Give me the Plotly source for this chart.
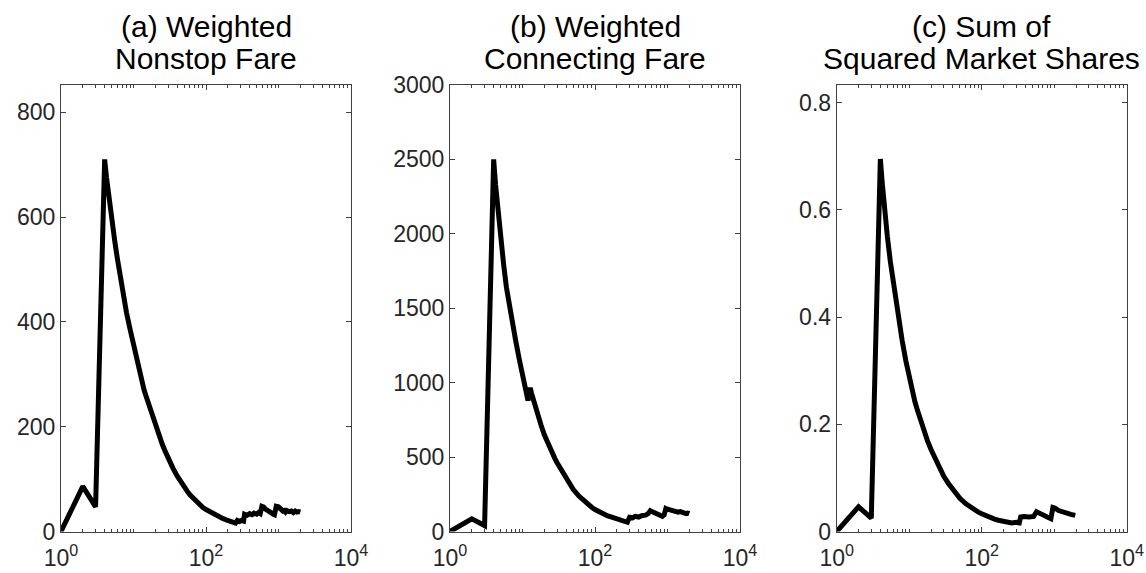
import plotly.graph_objects as go

# ---------------- data ----------------
title_line1 = ["(a) Weighted", "(b) Weighted", "(c) Sum of"]
title_line2 = ["Nonstop Fare", "Connecting Fare", "Squared Market Shares"]

nonstop_x = [1, 2, 3, 4, 4.25, 4.5, 4.75, 5, 5.5, 6, 6.5, 7, 7.5, 8, 9, 10, 11, 12, 13, 14, 15, 16, 18, 20,
             22, 25, 28, 30, 35, 40, 45, 50, 55, 60, 70, 80, 90, 100, 115, 130, 150, 170, 190, 210, 240, 255,
             270, 290, 310, 330, 340, 370, 400, 430, 460, 500, 530, 560, 590, 620, 660, 700, 750, 800, 850,
             880, 930, 1000, 1050, 1100, 1150, 1200, 1250, 1300, 1400, 1500, 1600, 1700, 1800, 1900, 2000]
nonstop_y = [0, 86, 47, 710, 675, 645, 620, 596, 555, 520, 488, 460, 438, 418, 385, 356, 330, 306, 287, 270,
             257, 245, 222, 202, 186, 166, 150, 140, 121, 106, 94, 85, 77, 70, 60, 52, 46, 42, 37, 32, 28, 25,
             22, 20, 17, 16, 21, 19, 21, 20, 33, 31, 34, 32, 35, 33, 36, 34, 48, 47, 43, 40, 37, 35, 33, 32,
             48, 47, 44, 41, 39, 40, 37, 40, 38, 39, 36, 39, 37, 38, 37]

connect_x = [1, 2, 3, 4, 4.25, 4.5, 4.75, 5, 5.5, 6, 6.5, 7, 7.5, 8, 9, 10, 11, 11.5, 11.9, 12.3, 12.8, 13.3,
             14, 15, 16, 18, 20, 22, 25, 28, 30, 35, 40, 45, 50, 60, 70, 80, 90, 100, 115, 130, 150, 170, 200,
             230, 260, 280, 300, 330, 360, 400, 450, 500, 540, 580, 620, 700, 800, 850, 900, 950, 1000, 1100,
             1200, 1300, 1400, 1500, 1600, 1700, 1800, 1900, 2000]
connect_y = [0, 85, 40, 2500, 2330, 2200, 2080, 1970, 1790, 1640, 1530, 1440, 1360, 1290, 1160, 1045, 950,
             905, 880, 925, 965, 930, 890, 840, 790, 715, 650, 600, 535, 490, 462, 405, 355, 315, 283, 238,
             205, 182, 163, 148, 130, 117, 105, 96, 84, 74, 66, 62, 95, 92, 102, 97, 108, 110, 120, 140, 132,
             118, 105, 102, 112, 155, 150, 144, 138, 140, 130, 134, 126, 128, 120, 124, 120]

hhi_x = [1, 2, 3, 4, 4.25, 4.5, 4.75, 5, 5.5, 6, 6.5, 7, 7.5, 8, 9, 10, 11, 11.6, 12, 13, 14, 15, 16, 18, 20,
         22, 25, 28, 30, 35, 40, 45, 50, 60, 70, 80, 90, 100, 115, 130, 150, 170, 200, 230, 260, 300, 330,
         345, 380, 450, 520, 570, 600, 700, 800, 900, 960, 1020, 1150, 1300, 1500, 1700, 1950]
hhi_y = [0, 0.046, 0.025, 0.695, 0.65, 0.61, 0.578, 0.55, 0.503, 0.465, 0.432, 0.402, 0.377, 0.356, 0.318,
         0.286, 0.262, 0.25, 0.242, 0.226, 0.212, 0.2, 0.188, 0.168, 0.153, 0.14, 0.124, 0.111, 0.103, 0.089,
         0.078, 0.069, 0.062, 0.052, 0.045, 0.04, 0.036, 0.033, 0.029, 0.026, 0.023, 0.021, 0.0185, 0.017,
         0.016, 0.017, 0.016, 0.027, 0.028, 0.027, 0.028, 0.037, 0.036, 0.031, 0.027, 0.024, 0.045, 0.044,
         0.039, 0.036, 0.034, 0.032, 0.030]

series = [(nonstop_x, nonstop_y), (connect_x, connect_y), (hhi_x, hhi_y)]
y_ranges = [[0, 852], [0, 3000], [0, 0.833]]
y_dticks = [200, 500, 0.2]

# ---------------- layout geometry ----------------
W, H = 1146, 573
x_doms = [[61 / W, 351 / W], [450 / W, 740 / W], [836.7 / W, 1126.7 / W]]
y_dom = [(H - 531.5) / H, (H - 85) / H]

FONT = "Liberation Sans, Arial, Helvetica, sans-serif"
AX = "#404040"
TXT = "#262626"

minor_vals = [k * 10 ** d for d in range(0, 4) for k in range(2, 11) if k * 10 ** d != 100]

fig = go.Figure()
annotations = []
for i, (xs, ys) in enumerate(series):
    n = "" if i == 0 else str(i + 1)
    fig.add_trace(go.Scatter(x=xs, y=ys, mode="lines",
                             line=dict(color="black", width=5),
                             xaxis="x" + n, yaxis="y" + n, showlegend=False))
    fig.layout["xaxis" + n] = dict(
        type="log", range=[0, 4], domain=x_doms[i], anchor="y" + n, automargin=False,
        showline=True, linecolor=AX, linewidth=1, mirror="ticks",
        ticks="inside", ticklen=5, tickcolor=AX,
        tickvals=[1, 100, 10000],
        ticktext=["10<sup>0</sup>", "10<sup>2</sup>", "10<sup>4</sup>"],
        tickfont=dict(family=FONT, size=23, color=TXT), ticklabelstandoff=6,
        minor=dict(tickvals=minor_vals, ticks="inside", ticklen=3, tickcolor=AX),
        showgrid=False, zeroline=False, fixedrange=True)
    fig.layout["yaxis" + n] = dict(
        range=y_ranges[i], domain=y_dom, anchor="x" + n, automargin=False,
        showline=True, linecolor=AX, linewidth=1, mirror="ticks",
        ticks="inside", ticklen=5, tickcolor=AX,
        tick0=0, dtick=y_dticks[i],
        tickfont=dict(family=FONT, size=23, color=TXT),
        showgrid=False, zeroline=False, fixedrange=True)
    cx = (x_doms[i][0] + x_doms[i][1]) / 2
    for txt, ypx in ((title_line1[i], 26), (title_line2[i], 58)):
        annotations.append(dict(
            text=txt, x=cx, y=(H - ypx) / H,
            xref="paper", yref="paper", xanchor="center", yanchor="middle",
            showarrow=False, font=dict(family=FONT, size=30, color="black")))

fig.update_layout(width=W, height=H, margin=dict(l=0, r=0, t=0, b=0),
                  paper_bgcolor="white", plot_bgcolor="white",
                  annotations=annotations)

fig.write_html("out.html", config={"displayModeBar": False},
               post_script="document.body.style.margin='0px';document.body.style.overflow='hidden';")
